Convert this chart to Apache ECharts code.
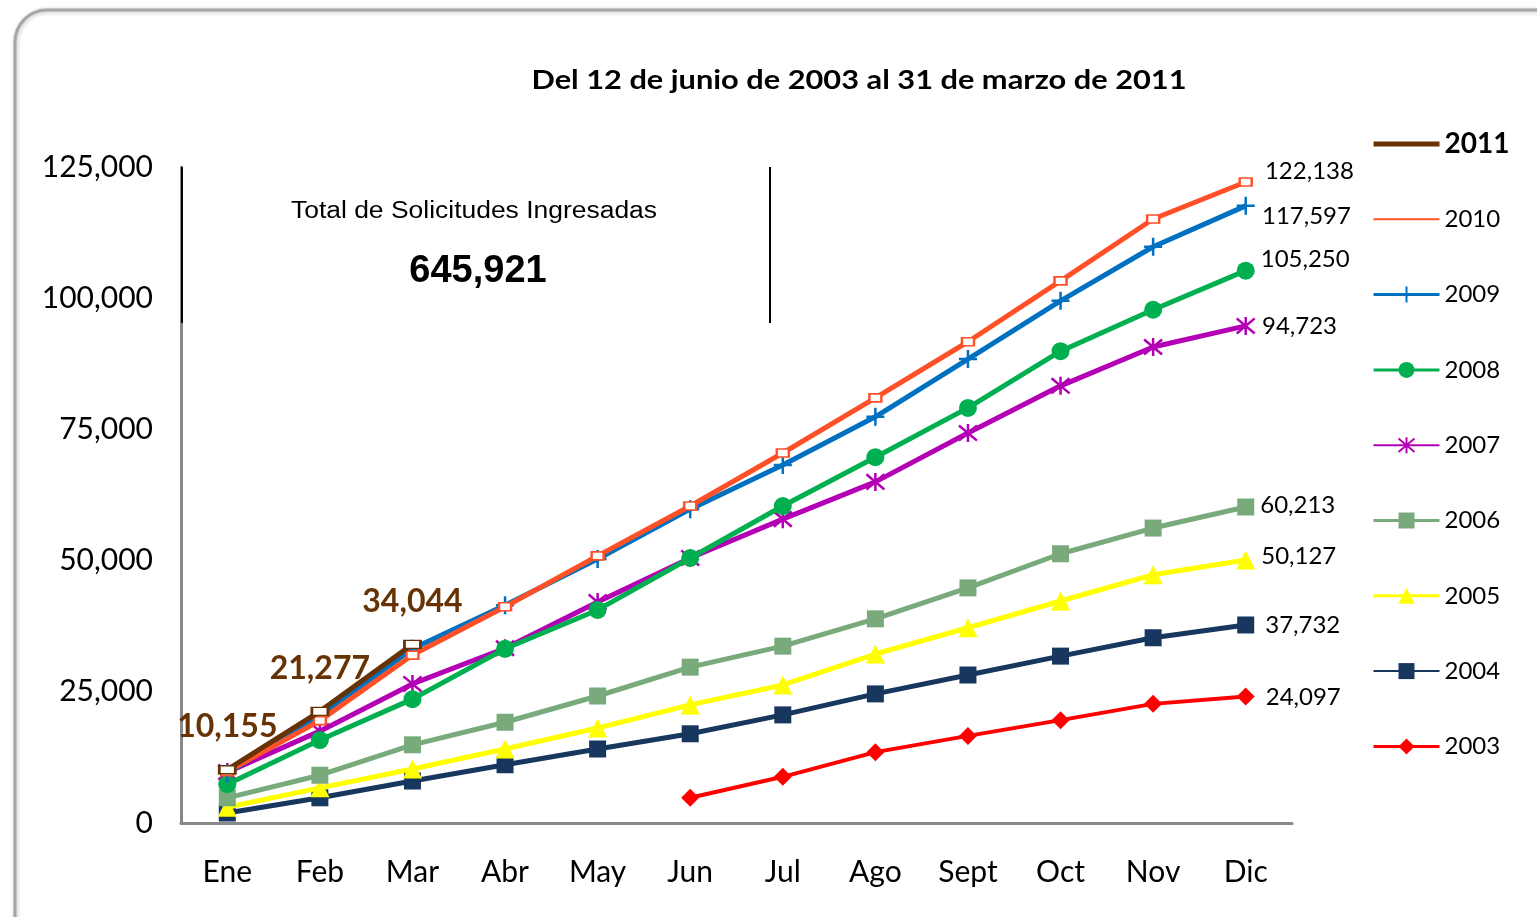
<!DOCTYPE html>
<html><head><meta charset="utf-8">
<script src="https://cdn.jsdelivr.net/npm/echarts@6/dist/echarts.min.js"></script>
<style>html,body{margin:0;padding:0;background:#fff;}#c{width:1537px;height:917px;}</style>
</head><body><div id="c"></div>
<script>
const months = ['Ene','Feb','Mar','Abr','May','Jun','Jul','Ago','Sept','Oct','Nov','Dic'];
const yTicks = [0, 25000, 50000, 75000, 100000, 125000];
const s2011 = [10155, 21277, 34044, null, null, null, null, null, null, null, null, null];
const s2010 = [9800, 19500, 32000, 41200, 50900, 60400, 70500, 81000, 91700, 103300, 115100, 122138];
const s2009 = [9500, 20400, 33200, 41500, 50300, 59800, 68200, 77400, 88400, 99500, 109800, 117597];
const s2008 = [7400, 15800, 23600, 33200, 40600, 50500, 60400, 69700, 79100, 89900, 97800, 105250];
const s2007 = [9700, 17500, 26500, 33300, 42100, 50500, 57900, 65000, 74300, 83300, 90700, 94723];
const s2006 = [4800, 9100, 14900, 19200, 24200, 29700, 33700, 38900, 44800, 51300, 56200, 60213];
const s2005 = [3000, 6700, 10300, 14100, 18100, 22500, 26300, 32200, 37200, 42300, 47300, 50127];
const s2004 = [1900, 4800, 8000, 11100, 14100, 17000, 20600, 24600, 28200, 31800, 35300, 37732];
const s2003 = [null, null, null, null, null, 4800, 8800, 13500, 16600, 19600, 22700, 24097];
const totalLabel = 'Total de Solicitudes Ingresadas';
const totalValue = '645,921';
const titleText = 'Del 12 de junio de 2003 al 31 de marzo de 2011';

const fmt = v => v.toString().replace(/\B(?=(\d{3})+(?!\d))/g, ',');
const FONT = 'Lato';

const PLUS = 'path://M5,0L5,10M0,5L10,5';
const STAR = 'path://M5,0L5,10M0.8,0.8L9.2,9.2M9.2,0.8L0.8,9.2';

const defs = [
  {name:'2011', data:s2011, color:'#673305', symbol:'emptyRect', size:[16,8], lw:5, legendLw:5, noMarker:true},
  {name:'2010', data:s2010, color:'#FF5028', symbol:'emptyRect', size:[12,8], lw:5, legendLw:2, noMarker:true, endOff:[6,-11]},
  {name:'2009', data:s2009, color:'#0070C0', symbol:PLUS, size:18, lw:5, legendLw:3, stroke:true, endOff:[0,10]},
  {name:'2008', data:s2008, color:'#00B050', symbol:'circle', size:18, lw:5, legendLw:3, endOff:[0,-11]},
  {name:'2007', data:s2007, color:'#B400B4', symbol:STAR, size:18, lw:5, legendLw:2, stroke:true, endOff:[0,0]},
  {name:'2006', data:s2006, color:'#79AA7C', symbol:'rect', size:17, lw:5, legendLw:3, endOff:[0,-2]},
  {name:'2005', data:s2005, color:'#FFFF00', symbol:'triangle', size:19, lw:5, legendLw:3, endOff:[0,-4]},
  {name:'2004', data:s2004, color:'#17375E', symbol:'rect', size:17, lw:5, legendLw:2, endOff:[5,0]},
  {name:'2003', data:s2003, color:'#FF0000', symbol:'diamond', size:18, lw:4, legendLw:3, endOff:[5,1]}
];

const series = defs.map(d => {
  const last = d.data.length - 1;
  const data = d.data.map((v, i) => {
    if (d.name === '2011') {
      return v == null ? null : {value: v, label: {show: true, position: 'top', distance: 22,
        formatter: p => fmt(p.value), color: '#673305', fontFamily: FONT, fontWeight: 'bold', fontSize: 32}};
    }
    if (i === last && v != null) {
      return {value: v, label: {show: true, position: 'right', distance: 6, offset: d.endOff || [0,0],
        formatter: p => fmt(p.value), color: '#000', fontFamily: FONT, fontSize: 24}};
    }
    return v;
  });
  const itemStyle = d.stroke ? {color: d.color, borderColor: d.color, borderWidth: 2.5}
                   : (d.symbol === 'emptyRect' ? {color: d.color, borderColor: d.color, borderWidth: 2} : {color: d.color});
  return {
    name: d.name, type: 'line', data: data, z: 20 - defs.indexOf(d),
    symbol: d.symbol, symbolSize: d.size, showSymbol: true,
    lineStyle: {color: d.color, width: d.lw}, itemStyle: itemStyle,
    connectNulls: false, animation: false
  };
});

const legendData = defs.map(d => {
  const o = {name: d.name, lineStyle: {width: d.legendLw}};
  if (d.noMarker) o.itemStyle = {color: 'rgba(0,0,0,0)', borderColor: 'rgba(0,0,0,0)', borderWidth: 0, opacity: 0};
  if (d.name === '2011') o.textStyle = {fontWeight: 'bold', fontSize: 28, fontFamily: FONT, lineHeight: 30, color:'#000'};
  return o;
});

const chart = echarts.init(document.getElementById('c'), null, {renderer: 'canvas'});
chart.setOption({
  backgroundColor: '#fff',
  animation: false,
  grid: {left: 181, right: 245, top: 167, bottom: 94, containLabel: false},
  legend: {
    orient: 'vertical', left: 1366, top: 124, itemWidth: 66, itemHeight: 20, itemGap: 45.3,
    data: legendData, selectedMode: false,
    textStyle: {fontFamily: FONT, fontSize: 24, color: '#000', lineHeight: 30}
  },
  xAxis: {
    type: 'category', data: months, boundaryGap: true,
    axisLine: {lineStyle: {color: '#888', width: 3}},
    axisTick: {show: false},
    axisLabel: {fontFamily: FONT, fontSize: 30, color: '#000', margin: 34},
    splitLine: {show: false}
  },
  yAxis: {
    type: 'value', min: yTicks[0], max: yTicks[yTicks.length-1], interval: yTicks[1] - yTicks[0],
    axisLine: {show: true, lineStyle: {color: '#888', width: 3}},
    axisTick: {show: false},
    axisLabel: {fontFamily: FONT, fontSize: 30, color: '#000', margin: 28, formatter: v => fmt(v)},
    splitLine: {show: false}
  },
  graphic: [
    {type: 'rect', z: -10, silent: true, shape: {x: 15, y: 10, width: 1600, height: 1000, r: 32},
      style: {fill: '#fff', stroke: '#a6a6a6', lineWidth: 3, shadowBlur: 4, shadowColor: 'rgba(0,0,0,0.25)', shadowOffsetX: 1, shadowOffsetY: 1}},
    {type: 'line', z: 100, shape: {x1: 182, y1: 167, x2: 182, y2: 323}, style: {stroke: '#000', lineWidth: 2}},
    {type: 'line', z: 100, shape: {x1: 770, y1: 167, x2: 770, y2: 323}, style: {stroke: '#000', lineWidth: 2}},
    {type: 'text', z: 100, x: 474, y: 212, scaleX: 1.15,
      style: {text: totalLabel, align: 'center', verticalAlign: 'middle', font: '23px "Liberation Sans"', fill: '#000'}},
    {type: 'text', z: 100, x: 478, y: 272, scaleX: 1.0,
      style: {text: totalValue, align: 'center', verticalAlign: 'middle', font: 'bold 38px "Liberation Sans"', fill: '#000'}},
    {type: 'text', z: 100, x: 859, y: 80, scaleX: 1.14,
      style: {text: titleText, align: 'center', verticalAlign: 'middle', font: 'bold 27px Lato', fill: '#000'}}
  ],
  series: series
});
</script>
</body></html>
